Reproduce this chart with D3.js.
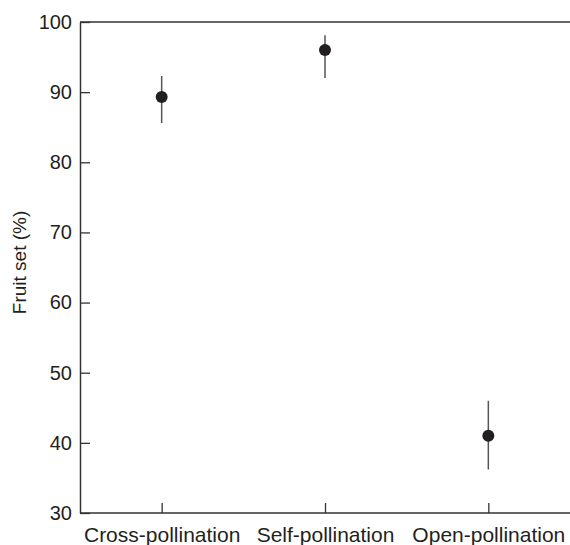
<!DOCTYPE html>
<html>
<head>
<meta charset="utf-8">
<script src="https://cdn.jsdelivr.net/npm/d3@7"></script>
<style>
  body { margin: 0; background: #fff; }
  text { font-family: "Liberation Sans", Arial, sans-serif; fill: #231f20; }
</style>
</head>
<body>
<svg id="chart" width="570" height="545"></svg>
<script>
// chart data
const categories = ['Cross-pollination', 'Self-pollination', 'Open-pollination'];
const means = [89.3, 96.0, 41.0];
const lower = [85.6, 92.0, 36.2];
const upper = [92.3, 98.1, 46.0];
const yTicks = [30, 40, 50, 60, 70, 80, 90, 100];

const dims = { width: 570, height: 545, top: 22, right: 0, bottom: 32, left: 80 };

const svg = d3.select('#chart');

const x = d3.scalePoint()
    .domain(categories)
    .range([dims.left, dims.width - dims.right])
    .padding(0.5);

const y = d3.scaleLinear()
    .domain([30, 100])
    .range([dims.height - dims.bottom, dims.top]);

const axisColor = '#333';

// top border
svg.append('line')
    .attr('x1', dims.left).attr('x2', dims.width)
    .attr('y1', y(100)).attr('y2', y(100))
    .attr('stroke', axisColor).attr('stroke-width', 1.5);

// y axis, ticks pointing inward
const yAxis = svg.append('g')
    .attr('transform', `translate(${dims.left},0)`)
    .call(d3.axisLeft(y).tickValues(yTicks).tickSizeInner(-10).tickSizeOuter(0).tickPadding(8));
yAxis.select('.domain').attr('stroke', axisColor).attr('stroke-width', 1.5);
yAxis.selectAll('.tick line').attr('stroke', axisColor).attr('stroke-width', 1.3);
yAxis.selectAll('.tick text')
    .attr('x', -8)
    .attr('font-size', '20px')
    .attr('font-family', '"Liberation Sans", Arial, sans-serif')
    .attr('fill', '#231f20');

// x axis, ticks pointing inward
const xAxis = svg.append('g')
    .attr('transform', `translate(0,${y(30)})`)
    .call(d3.axisBottom(x).tickSizeInner(-10).tickSizeOuter(0).tickPadding(8));
xAxis.select('.domain')
    .attr('d', `M${dims.left},0H${dims.width}`)
    .attr('stroke', axisColor).attr('stroke-width', 1.5);
xAxis.selectAll('.tick line').attr('stroke', axisColor).attr('stroke-width', 1.3);
xAxis.selectAll('.tick text')
    .attr('y', 29)
    .attr('dy', null)
    .attr('font-size', '21px')
    .attr('font-family', '"Liberation Sans", Arial, sans-serif')
    .attr('fill', '#231f20');

// y label
svg.append('text')
    .attr('transform', 'translate(26,262.5) rotate(-90)')
    .attr('text-anchor', 'middle')
    .attr('font-size', '19px')
    .text('Fruit set (%)');

// error bars
svg.selectAll('.err')
    .data(categories)
    .join('line')
        .attr('class', 'err')
        .attr('x1', d => x(d)).attr('x2', d => x(d))
        .attr('y1', (d, i) => y(lower[i]))
        .attr('y2', (d, i) => y(upper[i]))
        .attr('stroke', '#555')
        .attr('stroke-width', 1.5);

// points
svg.selectAll('.pt')
    .data(categories)
    .join('circle')
        .attr('class', 'pt')
        .attr('cx', d => x(d))
        .attr('cy', (d, i) => y(means[i]))
        .attr('r', 6)
        .attr('fill', '#231f20');
</script>
</body>
</html>
